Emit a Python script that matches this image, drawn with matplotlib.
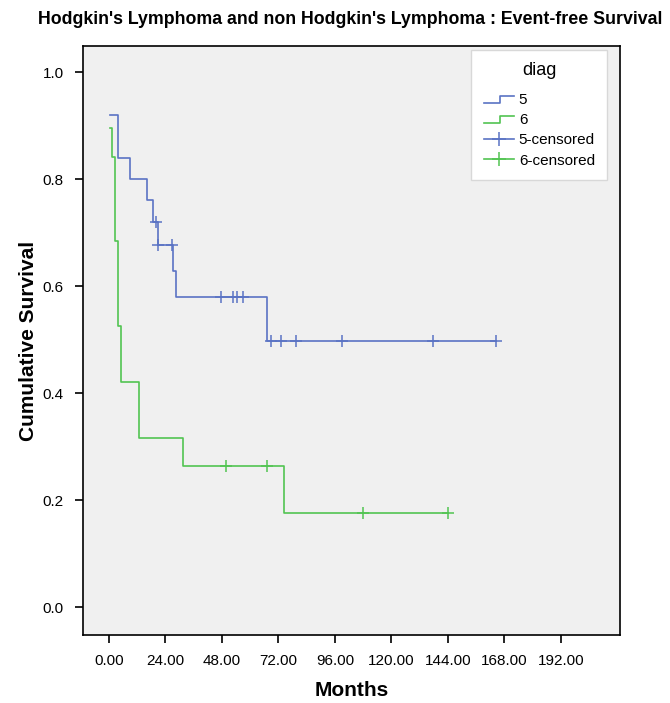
import matplotlib
matplotlib.use("Agg")
import matplotlib.pyplot as plt
from matplotlib.lines import Line2D
from matplotlib.legend_handler import HandlerBase

# values
blue_t = [0.4, 3.7, 8.9, 16.0, 18.8, 20.8, 27.2, 28.5, 67.0]
blue_s = [0.92, 0.84, 0.80, 0.76, 0.72, 0.677, 0.628, 0.58, 0.497]
blue_end = 164.3
blue_cens_t = [20.0, 20.8, 26.6, 47.4, 52.5, 54.2, 56.8, 69.0, 73.0, 79.4, 98.8, 137.8, 164.3]
blue_cens_s = [0.72, 0.677, 0.677, 0.58, 0.58, 0.58, 0.58, 0.497, 0.497, 0.497, 0.497, 0.497, 0.497]

green_t = [0.6, 1.4, 2.5, 3.7, 5.1, 12.7, 31.3, 74.3]
green_s = [0.895, 0.842, 0.684, 0.526, 0.421, 0.316, 0.263, 0.175]
green_end = 144.2
green_cens_t = [49.6, 67.0, 108.0, 144.2]
green_cens_s = [0.263, 0.263, 0.175, 0.175]

xticks = [0, 24, 48, 72, 96, 120, 144, 168, 192]
yticks = [0.0, 0.2, 0.4, 0.6, 0.8, 1.0]

blue = '#5a73c4'
green = '#52c452'

plt.rcParams['font.family'] = ['Liberation Sans', 'DejaVu Sans']


class StepHandler(HandlerBase):
    def create_artists(self, legend, orig, xd, yd, w, h, fontsize, trans):
        xs = [xd, xd + w * 0.55, xd + w * 0.55, xd + w]
        ys = [yd + h * 0.1, yd + h * 0.1, yd + h * 0.75, yd + h * 0.75]
        ln = Line2D(xs, ys, color=orig.get_color(), lw=orig.get_linewidth(), transform=trans)
        return [ln]


fig = plt.figure(figsize=(6.7, 7.03), dpi=100)
ax = fig.add_axes([83 / 670, 1 - 635 / 703, 537 / 670, 589 / 703])
ax.set_facecolor('#f0f0f0')

l5, = ax.step(blue_t + [blue_end], blue_s + [blue_s[-1]], where='post', color=blue, lw=1.2)
l6, = ax.step(green_t + [green_end], green_s + [green_s[-1]], where='post', color=green, lw=1.2)
ax.plot(blue_cens_t, blue_cens_s, ls='none', marker='+', ms=9, mew=1.1, color=blue)
ax.plot(green_cens_t, green_cens_s, ls='none', marker='+', ms=9, mew=1.1, color=green)

ax.set_xlim(-11.05, 217.1)
ax.set_ylim(-0.0523, 1.0486)
ax.set_xticks(xticks)
ax.set_xticklabels([f'{v:.2f}' for v in xticks])
ax.set_yticks(yticks)
ax.set_yticklabels([f'{v:.1f}' for v in yticks])
ax.tick_params(direction='out', length=6, width=1.2, labelsize=11, pad=8)
for sp in ax.spines.values():
    sp.set_linewidth(1.2)

ax.set_xlabel('Months', fontsize=15, fontweight='bold', labelpad=9)
ax.set_ylabel('Cumulative Survival', fontsize=15, fontweight='bold', labelpad=3)
fig.text(350 / 670, 1 - 19 / 703, "Hodgkin's Lymphoma and non Hodgkin's Lymphoma : Event-free Survival",
         ha='center', va='center', fontsize=12.8, fontweight='bold')

h5c = Line2D([], [], color=blue, lw=1.2, marker='+', ms=10, mew=1.1)
h6c = Line2D([], [], color=green, lw=1.2, marker='+', ms=10, mew=1.1)
leg = ax.legend([l5, l6, h5c, h6c], ['5', '6', '5-censored', '6-censored'],
                title='diag', loc='upper right', bbox_to_anchor=(0.976, 0.993),
                borderaxespad=0,
                handler_map={l5: StepHandler(), l6: StepHandler()},
                fontsize=11, title_fontsize=13, frameon=True, fancybox=False,
                edgecolor='#d8d8d8', framealpha=1, handlelength=2.0,
                labelspacing=0.4, borderpad=0.8, handletextpad=0.3)
leg.get_frame().set_linewidth(1.0)
leg._legend_box.sep = 10

fig.savefig('out.png', dpi=100)
